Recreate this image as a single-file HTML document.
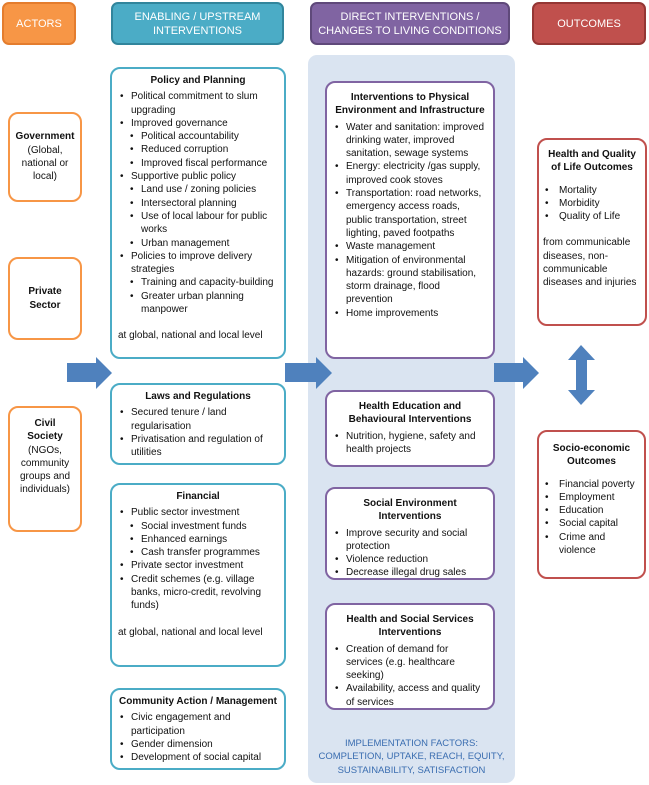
<!DOCTYPE html>
<html><head><meta charset="utf-8"><style>
*{margin:0;padding:0;box-sizing:border-box}
body{width:649px;height:785px;background:#fff;position:relative;overflow:hidden;font-family:"Liberation Sans",sans-serif;font-size:10px;line-height:13.3px;color:#111}
.a{position:absolute}
.h{position:absolute;top:2px;height:43px;border-radius:7px;color:#fff;font-size:11px;line-height:14px;display:flex;align-items:center;justify-content:center;text-align:center}
.bx{position:absolute;background:#fff;border:2px solid;border-radius:10px;padding:5px 6px}
.t{font-weight:bold;text-align:center;margin-bottom:3px}
.b{position:relative;padding-left:13px}
.b:before{content:"•";position:absolute;left:2px}
.c{position:relative;padding-left:23px}
.c:before{content:"•";position:absolute;left:12px}
.o{border-color:#F79646;text-align:center;display:flex;align-items:center;justify-content:center}
.tl{border-color:#4BACC6}
.pu{border-color:#8064A2}
.rd{border-color:#C0504D}
</style></head><body>
<div class="h" style="left:2px;width:74px;background:#F79646;border:2px solid #E47D2E">ACTORS</div>
<div class="h" style="left:111px;width:173px;background:#4BACC6;border:2px solid #31859C">ENABLING / UPSTREAM<br>INTERVENTIONS</div>
<div class="h" style="left:310px;width:200px;background:#8064A2;border:2px solid #5F497A">DIRECT INTERVENTIONS /<br>CHANGES TO LIVING CONDITIONS</div>
<div class="h" style="left:532px;width:114px;background:#C0504D;border:2px solid #943634">OUTCOMES</div>

<div class="a" style="left:308px;top:55px;width:207px;height:728px;background:#DAE4F1;border-radius:9px"></div>

<div class="bx o" style="left:8px;top:112px;width:74px;height:90px"><div><b>Government</b><br>(Global, national or local)</div></div>
<div class="bx o" style="left:8px;top:257px;width:74px;height:83px"><div><b>Private Sector</b></div></div>
<div class="bx o" style="left:8px;top:406px;width:74px;height:126px;align-items:flex-start;padding-top:9px"><div><b>Civil Society</b><br>(NGOs, community groups and individuals)</div></div>

<div class="bx tl" style="left:110px;top:67px;width:176px;height:292px">
<div class="t">Policy and Planning</div>
<div class="b">Political commitment to slum upgrading</div>
<div class="b">Improved governance</div>
<div class="c">Political accountability</div>
<div class="c">Reduced corruption</div>
<div class="c">Improved fiscal performance</div>
<div class="b">Supportive public policy</div>
<div class="c">Land use / zoning policies</div>
<div class="c">Intersectoral planning</div>
<div class="c">Use of local labour for public works</div>
<div class="c">Urban management</div>
<div class="b">Policies to improve delivery strategies</div>
<div class="c">Training and capacity-building</div>
<div class="c">Greater urban planning manpower</div>
<div style="margin-top:13px">at global, national and local level</div>
</div>

<div class="bx tl" style="left:110px;top:383px;width:176px;height:82px">
<div class="t">Laws and Regulations</div>
<div class="b">Secured tenure / land regularisation</div>
<div class="b">Privatisation and regulation of utilities</div>
</div>

<div class="bx tl" style="left:110px;top:483px;width:176px;height:184px">
<div class="t">Financial</div>
<div class="b">Public sector investment</div>
<div class="c">Social investment funds</div>
<div class="c">Enhanced earnings</div>
<div class="c">Cash transfer programmes</div>
<div class="b">Private sector investment</div>
<div class="b">Credit schemes (e.g. village banks, micro-credit, revolving funds)</div>
<div style="margin-top:13px">at global, national and local level</div>
</div>

<div class="bx tl" style="left:110px;top:688px;width:176px;height:82px">
<div class="t">Community Action / Management</div>
<div class="b">Civic engagement and participation</div>
<div class="b">Gender dimension</div>
<div class="b">Development of social capital</div>
</div>

<div class="bx pu" style="left:325px;top:81px;width:170px;height:278px;padding-top:8px">
<div class="t">Interventions to Physical Environment and Infrastructure</div>
<div class="b">Water and sanitation: improved drinking water, improved sanitation, sewage systems</div>
<div class="b">Energy: electricity /gas supply, improved cook stoves</div>
<div class="b">Transportation: road networks, emergency access roads, public transportation, street lighting, paved footpaths</div>
<div class="b">Waste management</div>
<div class="b">Mitigation of environmental hazards: ground stabilisation, storm drainage, flood prevention</div>
<div class="b">Home improvements</div>
</div>

<div class="bx pu" style="left:325px;top:390px;width:170px;height:77px;padding-top:8px">
<div class="t">Health Education and Behavioural Interventions</div>
<div class="b">Nutrition, hygiene, safety and health projects</div>
</div>

<div class="bx pu" style="left:325px;top:487px;width:170px;height:93px;padding-top:8px">
<div class="t">Social Environment Interventions</div>
<div class="b">Improve security and social protection</div>
<div class="b">Violence reduction</div>
<div class="b">Decrease illegal drug sales</div>
</div>

<div class="bx pu" style="left:325px;top:603px;width:170px;height:107px;padding-top:8px">
<div class="t">Health and Social Services Interventions</div>
<div class="b">Creation of demand for services (e.g. healthcare seeking)</div>
<div class="b">Availability, access and quality of services</div>
</div>

<div class="a" style="left:310px;top:737px;width:203px;text-align:center;color:#3A6DB0;font-size:9.5px">IMPLEMENTATION FACTORS:<br>COMPLETION, UPTAKE, REACH, EQUITY,<br>SUSTAINABILITY, SATISFACTION</div>

<div class="bx rd" style="left:537px;top:138px;width:110px;height:188px;padding:8px 4px">
<div class="t">Health and Quality of Life Outcomes</div>
<div style="height:6px"></div>
<div class="b" style="padding-left:16px">Mortality</div>
<div class="b" style="padding-left:16px">Morbidity</div>
<div class="b" style="padding-left:16px">Quality of Life</div>
<div style="margin-top:13px">from communicable diseases, non-communicable diseases and injuries</div>
</div>

<div class="bx rd" style="left:537px;top:430px;width:109px;height:149px;padding:10px 4px">
<div class="t">Socio-economic Outcomes</div>
<div style="height:6px"></div>
<div class="b" style="padding-left:16px">Financial poverty</div>
<div class="b" style="padding-left:16px">Employment</div>
<div class="b" style="padding-left:16px">Education</div>
<div class="b" style="padding-left:16px">Social capital</div>
<div class="b" style="padding-left:16px">Crime and violence</div>
</div>

<svg class="a" style="left:0;top:0" width="649" height="785">
<g fill="#4F81BD">
<polygon points="67,363 96,363 96,357 112,373 96,389 96,382 67,382"/>
<polygon points="285,363 316,363 316,357 332,373 316,389 316,382 285,382"/>
<polygon points="494,363 523,363 523,357 539,373 523,389 523,382 494,382"/>
<polygon points="581,345 595,360 587,360 587,390 595,390 581,405 568,390 576,390 576,360 568,360"/>
</g>
</svg>
</body></html>
